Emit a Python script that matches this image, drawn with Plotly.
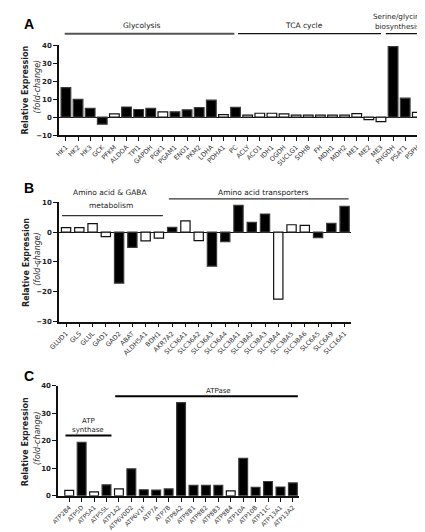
import plotly.graph_objects as go

# ---------------- data ----------------
genes_a = ["HK1", "HK2", "HK3", "GCK", "PFKM", "ALDOA", "TPI1", "GAPDH", "PGK1", "PGAM1",
           "ENO1", "PKM2", "LDHA", "PDHA1", "PC", "ACLY", "ACO1", "IDH1", "OGDH", "SUCLG1",
           "SDHB", "FH", "MDH1", "MDH2", "ME1", "ME2", "ME3", "PHGDH", "PSAT1", "PSPH"]
values_a = [16.5, 9.9, 5.0, -3.9, 1.8, 5.7, 4.3, 5.0, 3.0, 3.0,
            4.1, 5.3, 9.5, 1.4, 5.5, 1.2, 2.2, 2.2, 1.9, 1.2,
            1.2, 1.2, 1.2, 1.2, 2.0, -1.3, -2.5, 39.4, 10.6, 2.7]
signif_a = [1, 1, 1, 1, 0, 1, 1, 1, 0, 1,
            1, 1, 1, 0, 1, 0, 0, 0, 0, 0,
            0, 0, 0, 0, 0, 0, 0, 1, 1, 0]

genes_b = ["GLUD1", "GLS", "GLUL", "GAD1", "GAD2", "ABAT", "ALDH5A1", "BDH1", "AKR7A2",
           "SLC36A1", "SLC36A2", "SLC36A3", "SLC36A4", "SLC38A1", "SLC38A2", "SLC38A3",
           "SLC38A4", "SLC38A5", "SLC38A6", "SLC6A5", "SLC6A9", "SLC16A1"]
values_b = [1.5, 1.5, 2.9, -1.5, -17.1, -5.1, -2.9, -2.0, 1.6,
            3.8, -2.8, -11.4, -3.2, 9.0, 3.3, 6.1,
            -22.5, 2.5, 2.3, -1.8, 3.0, 8.7]
signif_b = [0, 0, 0, 0, 1, 1, 0, 0, 1,
            0, 0, 1, 1, 1, 1, 1,
            0, 0, 0, 1, 1, 1]

genes_c = ["ATP2B4", "ATP5D", "ATP5A1", "ATP5SL", "ATP1A2", "ATP6V0D2", "ATP6V1F", "ATP7A",
           "ATP7B", "ATP8A2", "ATP8B1", "ATP8B2", "ATP8B3", "ATP8B4", "ATP10A", "ATP10B",
           "ATP11C", "ATP13A1", "ATP13A2"]
values_c = [2.0, 19.4, 1.4, 4.0, 2.5, 9.8, 2.2, 2.1,
            2.5, 33.9, 3.8, 3.8, 3.8, 1.8, 13.6, 3.1,
            5.2, 3.2, 4.7]
signif_c = [0, 1, 0, 1, 0, 1, 1, 1,
            1, 1, 1, 1, 1, 0, 1, 1,
            1, 1, 1]

# ---------------- helpers ----------------
W, H = 425, 532
def px(x):
    return x / W
def py(y):
    return 1 - y / H

FONT = "DejaVu Sans"
TXT = "#222222"

def bar_style(sig):
    fill = ["#000000" if s else "#ffffff" for s in sig]
    line = ["#3a3a3a" if s else "#111111" for s in sig]
    return fill, line

fig = go.Figure()

for genes, vals, sig, xa, ya, bw in [
    (genes_a, values_a, signif_a, "x", "y", 0.8),
    (genes_b, values_b, signif_b, "x2", "y2", 0.7),
    (genes_c, values_c, signif_c, "x3", "y3", 0.71),
]:
    fill, line = bar_style(sig)
    fig.add_trace(go.Bar(x=genes, y=vals, xaxis=xa, yaxis=ya, width=bw,
                         marker=dict(color=fill, line=dict(color=line, width=1.2)),
                         showlegend=False))

def xax(domain, rng, fs=6.5):
    return dict(domain=domain, range=rng, type="category", showline=True, linecolor="#111",
                linewidth=1.5, ticks="outside", ticklen=4, tickwidth=1.2, tickcolor="#111",
                tickangle=-45, tickfont=dict(family=FONT, size=fs, color="#333"),
                showgrid=False, zeroline=False, fixedrange=True)

def yax(domain, rng, zl=True):
    return dict(domain=domain, range=rng, dtick=10, tick0=0, showline=True, linecolor="#111",
                linewidth=1.5, ticks="outside", ticklen=4, tickwidth=1.2, tickcolor="#111",
                tickfont=dict(family=FONT, size=7, color=TXT, weight="bold"),
                showgrid=False, zeroline=zl, zerolinecolor="#111", zerolinewidth=1.2,
                fixedrange=True)

fig.update_layout(
    width=W, height=H, autosize=False,
    margin=dict(l=0, r=0, t=0, b=0),
    paper_bgcolor="white", plot_bgcolor="white",
    bargap=0.2,
    xaxis=dict(xax([px(42), px(417)], [-0.57, 29.65]), anchor="y"),
    yaxis=dict(yax([py(125), py(34)], [-10, 40]), anchor="x"),
    xaxis2=dict(xax([px(42), px(341)], [-0.53, 21.48]), anchor="y2"),
    yaxis2=dict(yax([py(314.3), py(193.3)], [-30, 10]), anchor="x2"),
    xaxis3=dict(xax([px(41), px(288)], [-0.9, 18.51], fs=6.1), anchor="y3"),
    yaxis3=dict(yax([py(491.2), py(379.5)], [0, 40], zl=False), anchor="x3"),
)

annots = []
shapes = []

def label(text, x, y, size=8, bold=False, italic=False, angle=0, family=FONT, color=TXT):
    annots.append(dict(text=text, x=px(x), y=py(y), xref="paper", yref="paper",
                       showarrow=False, xanchor="center", yanchor="middle",
                       textangle=angle,
                       font=dict(family=family, size=size, color=color,
                                 weight="bold" if bold else "normal",
                                 style="italic" if italic else "normal")))

def hline(xref, x0, x1, y, color="#111", width=1.2):
    shapes.append(dict(type="line", xref=xref, yref="paper", x0=x0, x1=x1,
                       y0=py(y), y1=py(y), line=dict(color=color, width=width)))

# panel letters
label("A", 11, 12, size=14, bold=True, family="Liberation Sans", color="#000")
label("B", 11, 179, size=14, bold=True, family="Liberation Sans", color="#000")
label("C", 11, 370, size=14, bold=True, family="Liberation Sans", color="#000")

# y titles
for cy in [79, 254, 436]:
    label("Relative Expression", 8, cy, size=8, bold=True, angle=-90)
    label("(fold-change)", 20, cy - 3, size=8, italic=True, angle=-90, color="#333")

# panel A group headers
label("Glycolysis", 127, 14, size=7.5)
hline("x", -0.1, 13.9, 22, color="#555", width=2)
label("TCA cycle", 293, 14, size=7.5)
hline("x", 14.2, 26.0, 22, color="#111", width=1.2)
label("Serine/glycine", 390, 5, size=7.2)
label("biosynthesis", 389, 15, size=7.2)
hline("x", 26.4, 29.3, 22, color="#111", width=1.2)

# panel B group headers
label("Amino acid &amp; GABA", 95, 183, size=7.5)
label("metabolism", 95, 196, size=7.5)
hline("x2", -0.3, 7.3, 206.7, color="#333", width=1.2)
label("Amino acid transporters", 251, 183, size=7.5)
hline("x2", 7.75, 21.3, 189.7, color="#333", width=1.2)

# panel C group headers
label("ATP", 72, 415, size=7)
label("synthase", 72, 424, size=7)
hline("x3", -0.3, 3.4, 430, color="#000", width=2)
label("ATPase", 205, 385, size=7)
hline("x3", 3.7, 18.4, 390, color="#000", width=2)

fig.update_layout(annotations=annots, shapes=shapes)

fig.write_html("out.html")
